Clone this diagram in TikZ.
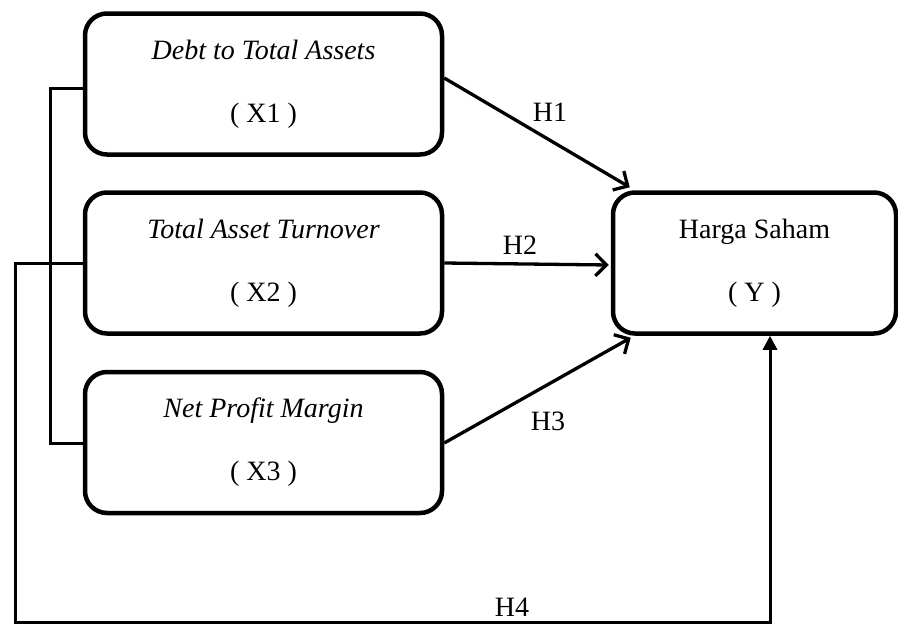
\documentclass[tikz,border=0pt]{standalone}
\usepackage{fontspec}
\setmainfont{Liberation Serif}
\usetikzlibrary{arrows.meta,calc}
\begin{document}
\begin{tikzpicture}[x=1pt,y=-1pt,
  varbox/.style={draw=black,line width=4.5pt,rounded corners=22pt,minimum width=357pt,minimum height=141pt,inner sep=0pt,align=center,font=\fontsize{28}{33}\selectfont},
  ybox/.style={varbox,minimum width=283pt},
  conn/.style={line width=3.3pt,-{Straight Barb[length=11pt,width=22pt,line width=3.3pt]}},
  brk/.style={line width=3pt},
  lbl/.style={font=\fontsize{28}{33}\selectfont,inner sep=0pt}]
\useasboundingbox (0,0) rectangle (898,624);
\node[varbox] (x1) at (263.5,84) {\itshape Debt to Total Assets\\[30pt]( X1 )};
\node[varbox] (x2) at (263.5,263) {\itshape Total Asset Turnover\\[30pt]( X2 )};
\node[varbox] (x3) at (263.5,442.5) {\itshape Net Profit Margin\\[30pt]( X3 )};
\node[ybox] (y) at (754.5,263) {Harga Saham\\[30pt]( Y )};
% arrows
\draw[conn] ($(x1.east)+(0,-6)$) -- ($(y.north west)+(19,-3)$);
\draw[conn] (x2.east) -- ($(y.west)+(-2,2)$);
\draw[conn] ($(x3.east)+(0,0.5)$) -- ($(y.south west)+(20,2)$);
\node[lbl] (h1) at (550,112) {H1};
\node[lbl] (h2) at (520,245) {H2};
\node[lbl] (h3) at (548,421) {H3};
\node[lbl] (h4) at (512,607) {H4};
% bracket
\coordinate (b1) at (50,88);
\coordinate (b2) at (50,443);
\draw[brk] ($(x1.west)+(0,4)$) -- (b1) -- (b2) -- ($(x3.west)+(0,0.5)$);
% H4 path
\coordinate (c1) at (15,263);
\coordinate (c2) at (15,622.5);
\coordinate (c3) at (770,622.5);
\draw[line width=3pt,-{Triangle[length=14pt,width=14pt]}] (x2.west) -- (c1) -- (c2) -- (c3) -- (y.south -| c3);
\end{tikzpicture}
\end{document}
